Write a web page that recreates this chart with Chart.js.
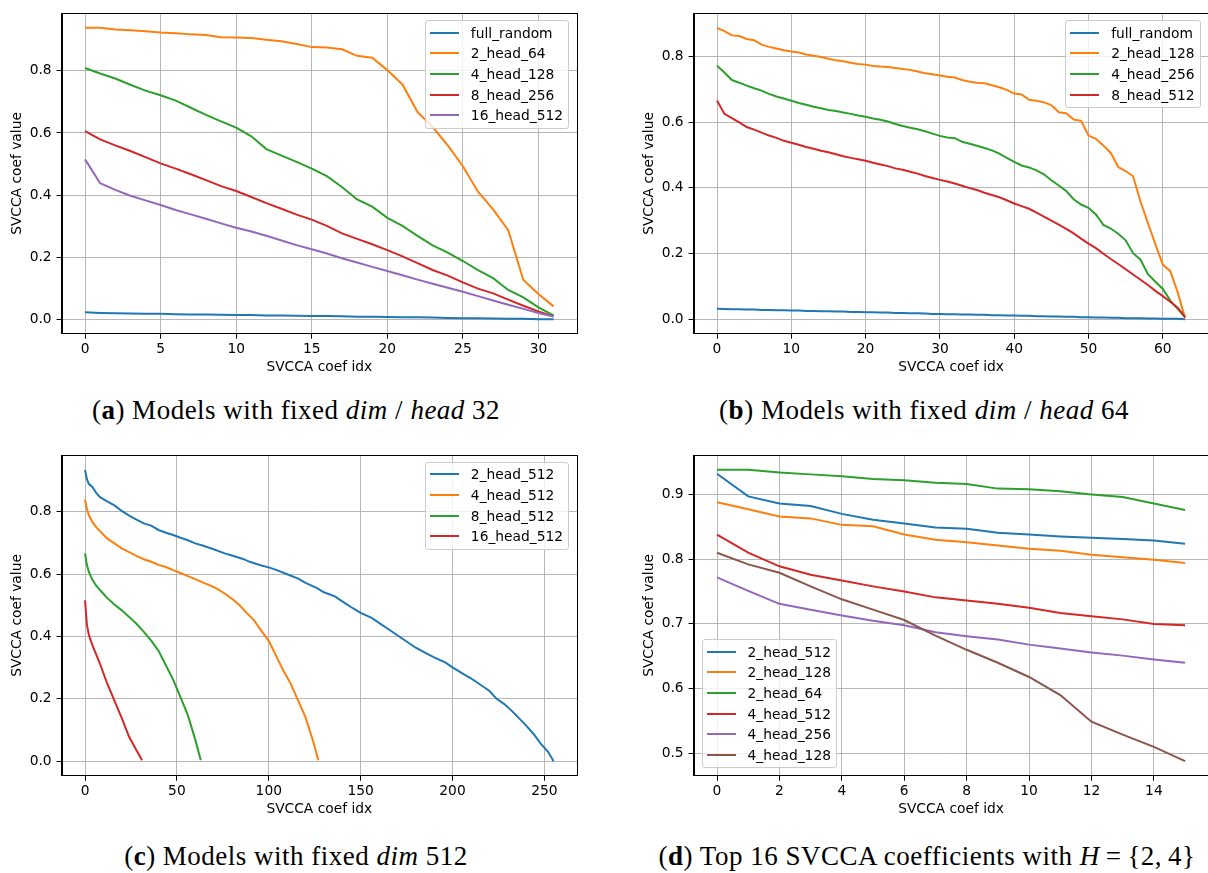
<!DOCTYPE html>
<html>
<head>
<meta charset="utf-8">
<script src="https://cdn.jsdelivr.net/npm/chart.js@4.4.1/dist/chart.umd.min.js"></script>
<style>
  body { margin: 0; width: 1208px; height: 873px; overflow: hidden; background: #fff; position: relative; font-family: "DejaVu Sans", sans-serif; }
  .panel { position: absolute; }
  .legend { position: absolute; background: rgba(255,255,255,0.8); border: 1px solid #cccccc; border-radius: 3px;
            padding: 1px 5px 2px 4px; font: 13.8px "DejaVu Sans", sans-serif; color: #000; }
  .legend .row { display: flex; align-items: center; height: 20.7px; white-space: nowrap; }
  .legend .handle { display: inline-block; width: 29px; height: 2px; margin-right: 12px; }
  .caption { position: absolute; transform: translate(-50%, -50%); white-space: nowrap; line-height: 1;
             font-family: "Liberation Serif", serif; font-size: 27px; letter-spacing: 0.5px; color: #000; }
  .caption .eq { margin: 0 6px; }
</style>
</head>
<body>
<div class="panel" id="pa" style="left:0px; top:0px;"><canvas id="ca" width="600" height="380"></canvas></div>
<div class="panel" id="pb" style="left:632px; top:0px;"><canvas id="cb" width="580" height="380"></canvas></div>
<div class="panel" id="pc" style="left:0px; top:441.7px;"><canvas id="cc" width="600" height="380"></canvas></div>
<div class="panel" id="pd" style="left:632px; top:442px;"><canvas id="cd" width="580" height="380"></canvas></div>

<div class="caption" style="left:296px; top:410px;">(<b>a</b>) Models with fixed <i>dim</i> / <i>head</i> 32</div>
<div class="caption" style="left:924px; top:410px;">(<b>b</b>) Models with fixed <i>dim</i> / <i>head</i> 64</div>
<div class="caption" style="left:296px; top:856px;">(<b>c</b>) Models with fixed <i>dim</i> 512</div>
<div class="caption" style="left:927px; top:856px;">(<b>d</b>) Top 16 SVCCA coefficients with <i>H</i><span class="eq">=</span>{2,&thinsp;4}</div>

<script>
// (a) fixed dim / head 32 -- 32 coefficients
const aFullRandom = [0.023, 0.021, 0.020, 0.019, 0.018, 0.018, 0.017, 0.016, 0.016, 0.015, 0.014, 0.014, 0.013, 0.013, 0.012, 0.011,
  0.011, 0.010, 0.009, 0.009, 0.008, 0.007, 0.007, 0.006, 0.005, 0.004, 0.004, 0.003, 0.002, 0.002, 0.001, 0.001];
const a2Head64 = [0.938, 0.938, 0.933, 0.930, 0.927, 0.923, 0.921, 0.917, 0.915, 0.908, 0.907, 0.905, 0.900, 0.895, 0.886, 0.876,
  0.875, 0.869, 0.848, 0.842, 0.802, 0.756, 0.667, 0.619, 0.560, 0.493, 0.411, 0.354, 0.287, 0.127, 0.082, 0.042];
const a4Head128 = [0.809, 0.791, 0.775, 0.755, 0.736, 0.721, 0.704, 0.681, 0.658, 0.637, 0.617, 0.589, 0.548, 0.527, 0.507, 0.485,
  0.461, 0.426, 0.386, 0.363, 0.327, 0.301, 0.269, 0.238, 0.215, 0.188, 0.159, 0.133, 0.095, 0.071, 0.039, 0.013];
const a8Head256 = [0.606, 0.579, 0.560, 0.542, 0.522, 0.502, 0.485, 0.467, 0.448, 0.429, 0.413, 0.394, 0.374, 0.356, 0.337, 0.321,
  0.301, 0.277, 0.259, 0.242, 0.223, 0.203, 0.181, 0.159, 0.141, 0.119, 0.099, 0.084, 0.064, 0.044, 0.026, 0.010];
const a16Head512 = [0.515, 0.438, 0.417, 0.398, 0.383, 0.368, 0.352, 0.338, 0.324, 0.309, 0.295, 0.283, 0.269, 0.254, 0.239, 0.226,
  0.212, 0.197, 0.183, 0.169, 0.156, 0.142, 0.128, 0.115, 0.102, 0.089, 0.075, 0.061, 0.047, 0.034, 0.021, 0.009];

// (b) fixed dim / head 64 -- 64 coefficients
const bFullRandom = [0.032, 0.031, 0.030, 0.030, 0.029, 0.029, 0.028, 0.028, 0.027, 0.027, 0.026, 0.026, 0.025, 0.025, 0.024, 0.024,
  0.023, 0.023, 0.022, 0.022, 0.021, 0.021, 0.020, 0.020, 0.019, 0.019, 0.018, 0.018, 0.017, 0.016, 0.016, 0.015,
  0.015, 0.014, 0.014, 0.013, 0.013, 0.012, 0.012, 0.011, 0.011, 0.010, 0.010, 0.009, 0.009, 0.008, 0.008, 0.007,
  0.007, 0.006, 0.006, 0.005, 0.005, 0.004, 0.004, 0.003, 0.003, 0.003, 0.002, 0.002, 0.001, 0.001, 0.001, 0.000];
const b2Head128 = [0.887, 0.877, 0.864, 0.862, 0.853, 0.849, 0.836, 0.829, 0.824, 0.819, 0.815, 0.812, 0.806, 0.802, 0.798, 0.793,
  0.788, 0.785, 0.781, 0.777, 0.775, 0.771, 0.769, 0.768, 0.765, 0.762, 0.759, 0.754, 0.749, 0.746, 0.742, 0.738,
  0.736, 0.728, 0.723, 0.720, 0.718, 0.712, 0.706, 0.698, 0.687, 0.684, 0.668, 0.665, 0.660, 0.652, 0.630, 0.627,
  0.608, 0.604, 0.559, 0.549, 0.529, 0.506, 0.463, 0.451, 0.435, 0.358, 0.292, 0.228, 0.166, 0.146, 0.082, 0.003];
const b4Head256 = [0.772, 0.751, 0.728, 0.720, 0.711, 0.703, 0.696, 0.686, 0.678, 0.672, 0.665, 0.658, 0.653, 0.647, 0.642, 0.637,
  0.634, 0.629, 0.625, 0.620, 0.616, 0.611, 0.607, 0.602, 0.594, 0.588, 0.583, 0.578, 0.572, 0.565, 0.558, 0.553,
  0.551, 0.540, 0.534, 0.528, 0.521, 0.514, 0.504, 0.491, 0.479, 0.468, 0.462, 0.453, 0.441, 0.423, 0.407, 0.390,
  0.365, 0.349, 0.339, 0.319, 0.287, 0.276, 0.260, 0.240, 0.201, 0.181, 0.137, 0.114, 0.092, 0.057, 0.031, 0.006];
const b8Head512 = [0.666, 0.625, 0.612, 0.599, 0.585, 0.577, 0.568, 0.559, 0.552, 0.543, 0.537, 0.531, 0.524, 0.519, 0.513, 0.508,
  0.502, 0.496, 0.491, 0.487, 0.482, 0.476, 0.471, 0.466, 0.459, 0.455, 0.449, 0.443, 0.436, 0.430, 0.424, 0.419,
  0.413, 0.406, 0.399, 0.393, 0.385, 0.378, 0.371, 0.362, 0.352, 0.344, 0.336, 0.324, 0.312, 0.300, 0.288, 0.275,
  0.261, 0.245, 0.230, 0.216, 0.199, 0.183, 0.168, 0.152, 0.136, 0.120, 0.104, 0.086, 0.070, 0.053, 0.035, 0.006];

// (c) fixed dim 512 -- read at selected coefficient indices
const c2HeadIdx = [0, 1, 2, 4, 6, 8, 12, 16, 20, 24, 28, 32, 36, 40, 44, 48, 52, 56, 60, 64, 70, 76, 80, 86, 90, 96, 100, 104, 110, 116,
  120, 126, 130, 136, 140, 146, 150, 156, 160, 166, 170, 176, 180, 186, 190, 196, 200, 206, 210, 216, 220, 224, 228, 232, 236, 240, 244, 248, 252, 255];
const c2Head512 = [0.935, 0.906, 0.890, 0.880, 0.862, 0.848, 0.834, 0.821, 0.803, 0.788, 0.775, 0.763, 0.756, 0.742, 0.733, 0.726, 0.717, 0.709, 0.699, 0.692,
  0.680, 0.667, 0.660, 0.649, 0.639, 0.628, 0.622, 0.614, 0.600, 0.586, 0.572, 0.556, 0.542, 0.529, 0.513, 0.490, 0.476, 0.460, 0.444, 0.420,
  0.404, 0.380, 0.364, 0.345, 0.333, 0.317, 0.301, 0.279, 0.266, 0.242, 0.226, 0.200, 0.184, 0.163, 0.139, 0.115, 0.088, 0.056, 0.030, 0.000];
const c4HeadIdx = [0, 1, 2, 4, 6, 8, 12, 16, 20, 24, 28, 32, 36, 40, 44, 48, 52, 56, 60, 64, 68, 72, 76, 80, 84, 88, 92, 96, 100, 104, 108, 112, 116, 120, 124, 127];
const c4Head512 = [0.840, 0.811, 0.790, 0.768, 0.752, 0.739, 0.715, 0.699, 0.683, 0.671, 0.659, 0.648, 0.640, 0.630, 0.623, 0.613, 0.604, 0.594,
  0.584, 0.574, 0.564, 0.553, 0.538, 0.521, 0.501, 0.476, 0.452, 0.418, 0.386, 0.338, 0.290, 0.248, 0.194, 0.141, 0.067, 0.003];
const c8HeadIdx = [0, 1, 2, 4, 6, 8, 12, 16, 20, 24, 28, 32, 36, 40, 44, 48, 52, 56, 60, 63];
const c8Head512 = [0.667, 0.630, 0.609, 0.582, 0.564, 0.550, 0.524, 0.503, 0.484, 0.463, 0.441, 0.415, 0.387, 0.354, 0.308, 0.261, 0.205, 0.147, 0.069, 0.003];
const c16HeadIdx = [0, 1, 2, 4, 8, 12, 16, 20, 24, 28, 31];
const c16Head512 = [0.516, 0.439, 0.407, 0.372, 0.315, 0.250, 0.194, 0.138, 0.078, 0.035, 0.003];

// (d) top 16 coefficients, H = {2,4}
const d2Head512 = [0.932, 0.897, 0.886, 0.882, 0.870, 0.861, 0.855, 0.849, 0.847, 0.841, 0.838, 0.835, 0.833, 0.831, 0.829, 0.824];
const d2Head128 = [0.888, 0.877, 0.866, 0.863, 0.853, 0.851, 0.838, 0.830, 0.826, 0.821, 0.816, 0.813, 0.807, 0.803, 0.799, 0.794];
const d2Head64 = [0.938, 0.938, 0.934, 0.931, 0.928, 0.924, 0.922, 0.918, 0.916, 0.909, 0.908, 0.905, 0.900, 0.896, 0.886, 0.876];
const d4Head512 = [0.838, 0.810, 0.789, 0.776, 0.767, 0.758, 0.750, 0.741, 0.736, 0.731, 0.725, 0.717, 0.712, 0.707, 0.700, 0.698];
const d4Head256 = [0.772, 0.751, 0.731, 0.722, 0.713, 0.705, 0.698, 0.687, 0.681, 0.676, 0.668, 0.662, 0.656, 0.651, 0.645, 0.640];
const d4Head128 = [0.810, 0.792, 0.779, 0.758, 0.738, 0.722, 0.706, 0.682, 0.660, 0.640, 0.618, 0.590, 0.549, 0.529, 0.510, 0.488];

// tick labels
const aXTicks = [0, 5, 10, 15, 20, 25, 30];
const bXTicks = [0, 10, 20, 30, 40, 50, 60];
const cXTicks = [0, 50, 100, 150, 200, 250];
const dXTicks = [0, 2, 4, 6, 8, 10, 12, 14];
const yTicks = [0.0, 0.2, 0.4, 0.6, 0.8];
const dYTicks = [0.5, 0.6, 0.7, 0.8, 0.9];

const colors = ['#1f77b4', '#ff7f0e', '#2ca02c', '#d62728', '#9467bd', '#8c564b'];
const idx = (n) => [...Array(n).keys()];

Chart.defaults.font.family = '"DejaVu Sans", sans-serif';
Chart.defaults.font.size = 13.8;
Chart.defaults.color = '#000';

// black box round the plot area, like matplotlib spines
const framePlugin = {
  id: 'frame',
  afterDraw(chart) {
    const { ctx, chartArea: a } = chart;
    ctx.save();
    ctx.strokeStyle = '#000';
    ctx.lineWidth = 1;
    ctx.strokeRect(Math.round(a.left) + 0.5, Math.round(a.top) + 0.5, Math.round(a.right - a.left), Math.round(a.bottom - a.top));
    ctx.restore();
  }
};

function series(label, xs, ys, i) {
  return {
    label: label,
    data: ys.map((y, k) => ({ x: xs[k], y: y })),
    borderColor: colors[i],
    backgroundColor: colors[i],
    borderWidth: 2,
    pointRadius: 0,
    tension: 0,
    fill: false,
    order: -i,
  };
}

// 5% margins like matplotlib autoscale
function padded(lo, hi) {
  const m = (hi - lo) * 0.05;
  return [lo - m, hi + m];
}

function makePanel(canvasId, panelId, datasets, xTicks, yTickVals, rightPad, legendAt) {
  const xs = datasets.flatMap((d) => d.data.map((p) => p.x));
  const ys = datasets.flatMap((d) => d.data.map((p) => p.y));
  const [xMin, xMax] = padded(Math.min(...xs), Math.max(...xs));
  const [yMin, yMax] = padded(Math.min(...ys), Math.max(...ys));

  const gridOpts = { color: '#b0b0b0', lineWidth: 0.9, tickColor: '#000', tickLength: 5, tickWidth: 1 };

  const chart = new Chart(document.getElementById(canvasId), {
    type: 'line',
    data: { datasets: datasets },
    plugins: [framePlugin],
    options: {
      responsive: false,
      animation: false,
      devicePixelRatio: 1,
      layout: { padding: { top: 10.6, right: rightPad, left: 0, bottom: 0 } },
      plugins: { legend: { display: false }, tooltip: { enabled: false } },
      scales: {
        x: {
          type: 'linear',
          min: xMin,
          max: xMax,
          grid: gridOpts,
          border: { color: '#000' },
          afterBuildTicks: (axis) => { axis.ticks = xTicks.map((v) => ({ value: v })); },
          afterFit: (axis) => { axis.height = 46.3; },
          ticks: { autoSkip: false, maxRotation: 0, padding: 2, callback: (v) => String(v) },
          title: { display: true, text: 'SVCCA coef idx', padding: { top: 0, bottom: 4.1 } },
        },
        y: {
          type: 'linear',
          min: yMin,
          max: yMax,
          grid: gridOpts,
          border: { color: '#000' },
          afterBuildTicks: (axis) => { axis.ticks = yTickVals.map((v) => ({ value: v })); },
          afterFit: (axis) => { axis.width = 61.6; },
          ticks: { padding: 5, callback: (v) => Number(v).toFixed(1) },
          title: { display: true, text: 'SVCCA coef value', padding: { top: 9.5, bottom: 0 } },
        },
      },
    },
  });

  // legend box inside the axes, as matplotlib draws it
  const panel = document.getElementById(panelId);
  const box = document.createElement('div');
  box.className = 'legend';
  datasets.forEach((d) => {
    const row = document.createElement('div');
    row.className = 'row';
    const h = document.createElement('span');
    h.className = 'handle';
    h.style.background = d.borderColor;
    const t = document.createElement('span');
    t.textContent = d.label;
    row.appendChild(h);
    row.appendChild(t);
    box.appendChild(row);
  });
  panel.appendChild(box);
  const a = chart.chartArea;
  const cw = chart.width;
  const ch = chart.height;
  if (legendAt === 'upper right') {
    box.style.right = (cw - a.right + 8) + 'px';
    box.style.top = (a.top + 7) + 'px';
  } else {
    box.style.left = (a.left + 8) + 'px';
    box.style.bottom = (ch - a.bottom + 7.4) + 'px';
  }
  return chart;
}

makePanel('ca', 'pa', [
  series('full_random', idx(32), aFullRandom, 0),
  series('2_head_64', idx(32), a2Head64, 1),
  series('4_head_128', idx(32), a4Head128, 2),
  series('8_head_256', idx(32), a8Head256, 3),
  series('16_head_512', idx(32), a16Head512, 4),
], aXTicks, yTicks, 23, 'upper right');

makePanel('cb', 'pb', [
  series('full_random', idx(64), bFullRandom, 0),
  series('2_head_128', idx(64), b2Head128, 1),
  series('4_head_256', idx(64), b4Head256, 2),
  series('8_head_512', idx(64), b8Head512, 3),
], bXTicks, yTicks, 3.5, 'upper right');

makePanel('cc', 'pc', [
  series('2_head_512', c2HeadIdx, c2Head512, 0),
  series('4_head_512', c4HeadIdx, c4Head512, 1),
  series('8_head_512', c8HeadIdx, c8Head512, 2),
  series('16_head_512', c16HeadIdx, c16Head512, 3),
], cXTicks, yTicks, 23, 'upper right');

makePanel('cd', 'pd', [
  series('2_head_512', idx(16), d2Head512, 0),
  series('2_head_128', idx(16), d2Head128, 1),
  series('2_head_64', idx(16), d2Head64, 2),
  series('4_head_512', idx(16), d4Head512, 3),
  series('4_head_256', idx(16), d4Head256, 4),
  series('4_head_128', idx(16), d4Head128, 5),
], dXTicks, dYTicks, 3.5, 'lower left');
</script>
</body>
</html>
